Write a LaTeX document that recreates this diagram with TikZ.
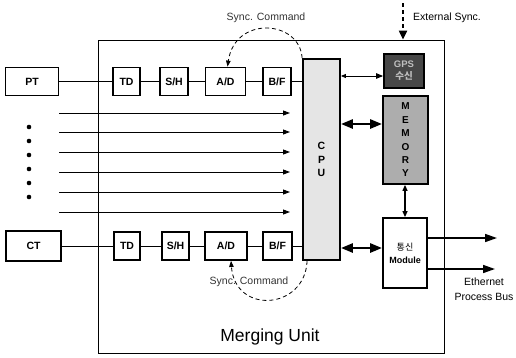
\documentclass[tikz,border=0pt]{standalone}
\usepackage{fontspec}
\setmainfont{Liberation Sans}
\newfontfamily\krfont{Noto Sans CJK KR}
\usetikzlibrary{arrows.meta}
\begin{document}
\begin{tikzpicture}[x=1pt,y=-1pt,
  blk/.style={draw, line width=1.8pt, fill=white, inner sep=0pt, font=\bfseries\fontsize{10.5}{11}\selectfont},
  wire/.style={line width=0.8pt},
  sig/.style={line width=0.9pt, -{Triangle[length=7pt,width=5pt]}},
  bus/.style={line width=2.6pt, {Triangle[length=12pt,width=9pt]}-{Triangle[length=12pt,width=9pt]}},
  thinbus/.style={line width=1.2pt, {Triangle[length=6pt,width=5pt]}-{Triangle[length=6pt,width=5pt]}},
  outarrow/.style={line width=1.6pt, -{Triangle[length=12pt,width=8pt]}},
  syncarc/.style={line width=0.8pt, dash pattern=on 4pt off 3pt, -{Triangle[length=6pt,width=4.5pt]}},
  lbl/.style={font=\fontsize{10.5}{12}\selectfont, inner sep=0pt}
]
\useasboundingbox (0,0) rectangle (516,357);

% Merging unit frame
\node[draw, line width=0.8pt, minimum width=346pt, minimum height=313pt, inner sep=0pt] (mu) at (271,196.5) {};
\node[lbl, font=\fontsize{17.5}{20}\selectfont] (mut) at (270,337) {Merging Unit};

% top chain
\node[blk, minimum width=53pt, minimum height=28pt] (pt) at (32,81.5) {PT};
\node[blk, minimum width=27pt, minimum height=28pt] (td1) at (126.5,81.5) {TD};
\node[blk, minimum width=28pt, minimum height=28pt] (sh1) at (174,81.5) {S/H};
\node[blk, minimum width=40pt, minimum height=28pt] (ad1) at (225.5,81.5) {A/D};
\node[blk, minimum width=28pt, minimum height=28pt] (bf1) at (277,81.5) {B/F};

% bottom chain
\node[blk, minimum width=55pt, minimum height=30pt] (ct) at (33.5,246) {CT};
\node[blk, minimum width=26pt, minimum height=28pt] (td2) at (127,246) {TD};
\node[blk, minimum width=27pt, minimum height=28pt] (sh2) at (175.5,246) {S/H};
\node[blk, minimum width=42pt, minimum height=28pt] (ad2) at (226,246) {A/D};
\node[blk, minimum width=29pt, minimum height=28pt] (bf2) at (277.5,246) {B/F};

% CPU, GPS, memory, module
\node[blk, fill=black!10, minimum width=37pt, minimum height=201pt, align=center,
      font=\bfseries\fontsize{10.5}{13.2}\selectfont] (cpu) at (321.5,159.5) {C\\P\\U};
\node[blk, fill=black!72, text=black!25, minimum width=40pt, minimum height=34pt, align=center,
      font=\bfseries\fontsize{9.5}{12}\selectfont] (gps) at (404,71) {GPS\\{\krfont 수신}};
\node[blk, fill=black!32, minimum width=45pt, minimum height=88pt, align=center,
      font=\bfseries\fontsize{10}{13.4}\selectfont] (mem) at (405.5,140) {M\\E\\M\\O\\R\\Y};
\node[blk, minimum width=44pt, minimum height=70pt, align=center,
      font=\bfseries\fontsize{9}{13}\selectfont] (mod) at (405,253) {{\krfont\mdseries 통신}\\Module};

% chain wires
\draw[wire] (pt) -- (td1) -- (sh1) -- (ad1) -- (bf1) -- (bf1 -| cpu.west);
\draw[wire] (ct) -- (td2) -- (sh2) -- (ad2) -- (bf2) -- (bf2 -| cpu.west);

% dots
\foreach \y [count=\i] in {127,141,155,169,183,197}
  \node[circle, fill=black, inner sep=0pt, minimum size=4.6pt] (d\i) at (29,\y) {};

% parallel channel arrows
\foreach \y [count=\i] in {113,132,152,172,192,212} {
  \coordinate (hs\i) at (59,\y);
  \coordinate (he\i) at (290,\y);
  \draw[sig] (hs\i) -- (he\i);
}

% CPU links
\coordinate (g) at ([yshift=-5pt]gps.west);
\draw[line width=0.9pt, {Triangle[length=5pt,width=4pt]}-{Triangle[length=7pt,width=5.5pt]}] (cpu.east |- g) -- (g);
\coordinate (m) at ([yshift=16pt]mem.west);
\draw[bus] (cpu.east |- m) -- (m);
\coordinate (q) at ([yshift=5pt]mod.west);
\draw[bus] (cpu.east |- q) -- (q);
\draw[thinbus] (mem.south -| mod.north) -- (mod.north);

% module outputs
\coordinate (o1) at (497,238);
\coordinate (o2) at (495,269);
\draw[outarrow] (mod.east |- o1) -- (o1);
\draw[outarrow] (mod.east |- o2) -- (o2);
\node[lbl, align=center, font=\fontsize{10.5}{15}\selectfont] (eth) at (484,289.5) {Ethernet\\Process Bus};

% external sync
\coordinate (es) at (403,3);
\draw[line width=2pt, dash pattern=on 4pt off 3pt, -{Triangle[length=9pt,width=8pt]}] (es) -- (es |- mu.north);
\node[lbl, anchor=west] (est) at (413,18) {External Sync.};

% sync command arcs
\draw[syncarc] (cpu.north west) .. controls (300,20) and (235,15) .. ([xshift=2pt]ad1.north);
\node[lbl, text=black!80] (sc1) at (266,18) {Sync. Command};
\draw[syncarc] ([xshift=5pt]cpu.south west) .. controls (305,310) and (235,315) .. ([xshift=5pt]ad2.south);
\node[lbl, text=black!80] (sc2) at (249,282) {Sync. Command};
\end{tikzpicture}
\end{document}
